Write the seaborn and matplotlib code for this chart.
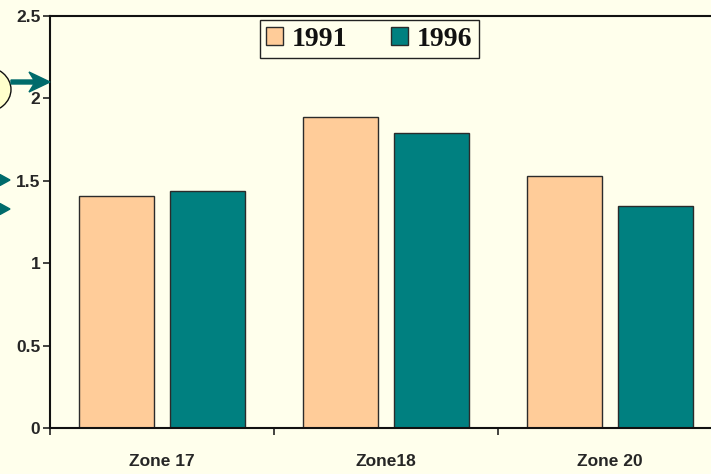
import pandas as pd
import matplotlib.pyplot as plt
import seaborn as sns
from matplotlib.patches import Ellipse, Polygon

# chart values
zones = ['Zone 17', 'Zone18', 'Zone 20']
years = ['1991', '1996']
vals_1991 = [1.41, 1.89, 1.53]
vals_1996 = [1.44, 1.79, 1.35]
yticks = [0, 0.5, 1, 1.5, 2, 2.5]
ytick_labels = ['0', '0.5', '1', '1.5', '2', '2.5']

bg = '#FFFFEC'
colors = ['#FFCC99', '#008080']

df = pd.DataFrame({
    'zone': zones * 2,
    'year': [years[0]] * 3 + [years[1]] * 3,
    'value': vals_1991 + vals_1996,
})

sns.set_style('ticks')
plt.rcParams['font.family'] = ['Liberation Sans', 'DejaVu Sans']

fig = plt.figure(figsize=(7.11, 4.74), dpi=100, facecolor=bg)
# axes runs off the right edge like in the reference
ax = fig.add_axes([50 / 711, 46 / 474, 672 / 711, 412 / 474])
ax.set_facecolor(bg)

sns.barplot(data=df, x='zone', y='value', hue='year', palette=colors,
            saturation=1, width=0.81, gap=0.18, edgecolor='#2b2b2b',
            linewidth=1.0, ax=ax)

ax.set_xlim(-0.5, 2.5)
ax.set_ylim(0, 2.5)
ax.set_yticks(yticks)
ax.set_yticklabels(ytick_labels, fontsize=12.5, fontweight='bold')
ax.set_xticks(range(len(zones)))
ax.set_xticklabels(zones, fontsize=12.5, fontweight='bold')
ax.tick_params(axis='x', length=0, pad=19)
# category boundary ticks
ax.set_xticks([-0.5, 0.5, 1.5, 2.5], minor=True)
ax.tick_params(axis='x', which='minor', length=5, width=1.2, color='#222222')
ax.tick_params(axis='y', length=5, width=1.2, color='#222222', pad=2)
ax.set_xlabel('')
ax.set_ylabel('')
for s in ax.spines.values():
    s.set_linewidth(1.5)
    s.set_color('#111111')

handles, labels = ax.get_legend_handles_labels()
leg = ax.legend(handles, labels, loc='upper center', bbox_to_anchor=(0.475, 0.998),
                ncol=2, frameon=True, fancybox=False, edgecolor='#222222',
                facecolor=bg, framealpha=1,
                prop={'family': 'Liberation Serif', 'weight': 'bold', 'size': 20},
                handlelength=0.6, handleheight=0.6, handletextpad=0.3,
                columnspacing=1.6, borderpad=0.25, borderaxespad=0.1)
leg.get_frame().set_linewidth(1.0)
for t in leg.get_texts():
    t.set_color('#111111')

# decorations on the left margin (callout bubble and arrows)
teal_dark = '#006B6B'
H = 474
fig.add_artist(Ellipse((-16, H - 89.5), 54, 46, transform=None, facecolor='#FFFFCC',
                       edgecolor='#111111', linewidth=1.0))
arrow = [(11, H - 80), (34, H - 80), (29, H - 72), (50, H - 82),
         (29, H - 92), (34, H - 84), (11, H - 84)]
fig.add_artist(Polygon(arrow, closed=True, transform=None, color=teal_dark))
for yy in [180, 209]:
    fig.add_artist(Polygon([(0, H - yy + 5.5), (0, H - yy - 5.5), (10, H - yy)],
                           closed=True, transform=None, color=teal_dark))

fig.savefig('out.png', dpi=100, facecolor=bg)
